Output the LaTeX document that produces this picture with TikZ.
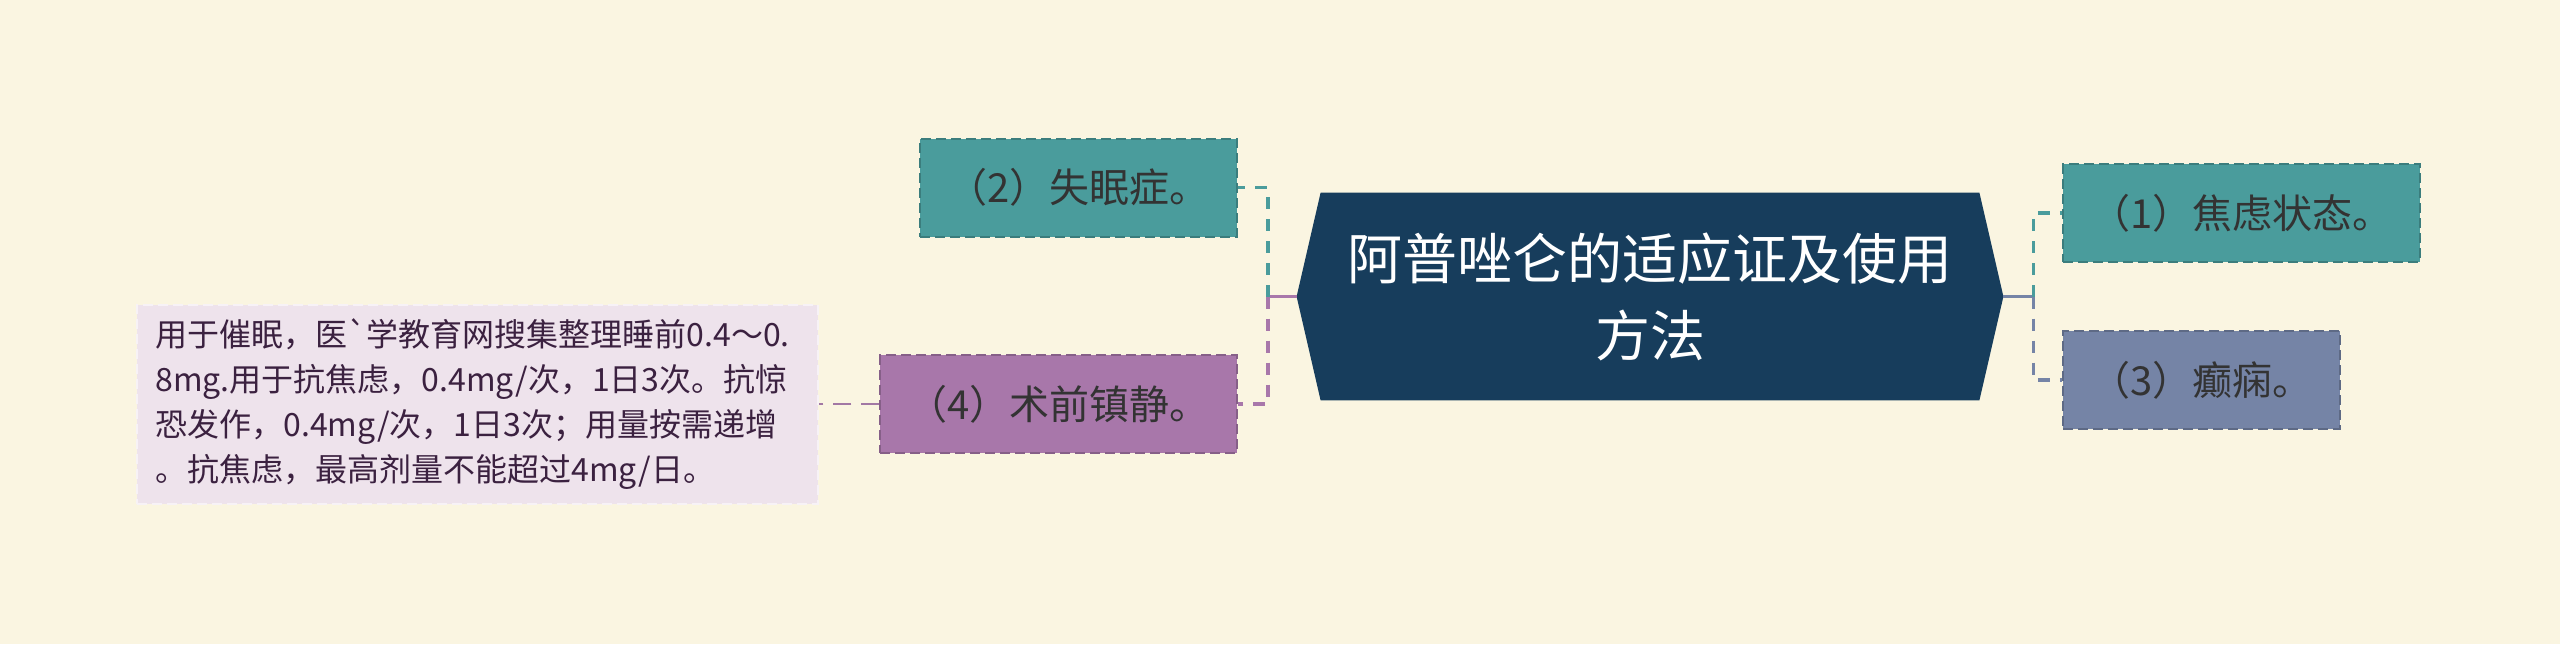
\documentclass[tikz,border=0pt]{standalone}
\usepackage{fontspec}
\setmainfont{Noto Sans CJK SC}[Ligatures=TeXOff]
\usetikzlibrary{positioning,backgrounds,calc}

\definecolor{cream}{HTML}{FAF5E1}
\definecolor{navy}{HTML}{173D5C}
\definecolor{tealbox}{HTML}{4A9C9C}
\definecolor{plumbox}{HTML}{A877AA}
\definecolor{slatebox}{HTML}{7584A6}
\definecolor{lilac}{HTML}{EEE3EC}
\definecolor{plumtext}{HTML}{3B2140}
\definecolor{darktext}{HTML}{333333}

\begin{document}
\begin{tikzpicture}[
  x=0.5pt, y=-0.5pt,
  topic/.style={align=center, text=white, minimum width=353pt, minimum height=103.5pt,
    font=\fontsize{27.5}{38.5}\selectfont},
  sub/.style={rectangle, draw=#1!80!black, fill=#1, dash pattern=on 5pt off 2.5pt, line width=1pt,
    minimum height=49pt, inner xsep=13.5pt, text=darktext, font=\fontsize{20}{24}\selectfont},
  note/.style={rectangle, draw=white!55!lilac, fill=lilac, dash pattern=on 5pt off 2.5pt, line width=1pt,
    text width=322.5pt, align=left, inner xsep=9pt, minimum height=99.5pt, text=plumtext,
    font=\fontsize{16}{22.5}\selectfont},
  stem/.style={line width=1.9pt},
  link/.style={line width=1.9pt, dash pattern=on 6pt off 5pt},
  notelink/.style={line width=1.1pt, dash pattern=on 9pt off 5pt, draw=plumbox!85!gray}]

\useasboundingbox (0,0) rectangle (2560,644);

\node[topic] (hex) at (1650,296.5) {阿普唑仑的适应证及使用\\方法};
\begin{scope}[on background layer]
  \fill[cream] (0,0) rectangle (2560,644);
  \fill[navy] ([xshift=12pt]hex.north west) -- ([xshift=-12pt]hex.north east) -- (hex.east)
    -- ([xshift=-12pt]hex.south east) -- ([xshift=12pt]hex.south west) -- (hex.west) -- cycle;
\end{scope}

% left branch
\node[sub=tealbox, left=29.5pt of hex.west, yshift=54.5pt] (insomnia) {（2）失眠症。};
\node[sub=plumbox, left=29.5pt of hex.west, yshift=-53.75pt] (sedation) {（4）术前镇静。};
\node[note, left=30pt of sedation] (dosage) {用于催眠，医\symbol{96}学教育网搜集整理睡前0.4～0.\\8mg.用于抗焦虑，0.4mg/次，1日3次。抗惊\\恐发作，0.4mg/次，1日3次；用量按需递增\\。抗焦虑，最高剂量不能超过4mg/日。};

% right branch
\node[sub=tealbox, right=29.5pt of hex.east, yshift=41.75pt] (anxiety) {（1）焦虑状态。};
\node[sub=slatebox, right=29.5pt of hex.east, yshift=-41.75pt] (epilepsy) {（3）癫痫。};

\coordinate (jl) at ($(hex.west)+(-29,0)$);
\coordinate (jr) at ($(hex.east)+(30,0)$);

\draw[stem, plumbox] (hex.west) -- (jl);
\draw[link, tealbox] (jl) |- (insomnia.east);
\draw[link, plumbox] (jl) |- (sedation.east);

\draw[stem, slatebox] (hex.east) -- (jr);
\draw[link, tealbox] (jr) |- (anxiety.west);
\draw[link, slatebox] (jr) |- (epilepsy.west);

\draw[notelink] (sedation.west) -- (dosage.east);

\end{tikzpicture}
\end{document}
